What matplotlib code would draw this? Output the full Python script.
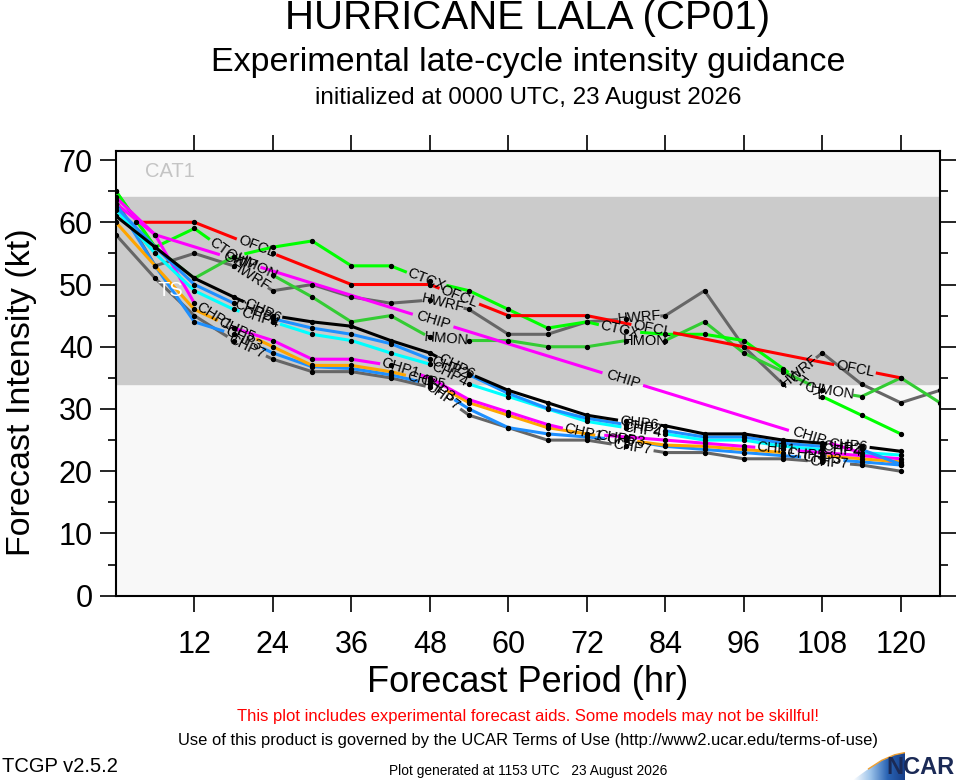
import numpy as np
import matplotlib
matplotlib.use('Agg')
import matplotlib.pyplot as plt
from matplotlib.patches import Polygon

plt.rcParams['font.family'] = ['Liberation Sans', 'DejaVu Sans']

# forecast hours
hrs = [0, 6, 12, 18, 24, 30, 36, 42, 48, 54, 60, 66, 72, 78, 84, 90, 96, 102, 108, 114, 120]
hrs_long = hrs + [126]
hrs_ofcl = [3, 12, 24, 36, 48, 60, 72, 96, 120]
hrs_chip = [0, 6, 120]

# intensity (kt)
ofcl = [60, 60, 55, 50, 50, 45, 45, 40, 35]
hwrf = [63.5, 53, 55, 53, 49, 50, 48, 47, 47.5, 46, 42, 42, 44, 44.5, 45, 49, 40, 34, 39, 34, 31, 33]
hmon = [65, 56, 51, 54.5, 51.5, 48, 44, 45, 41.5, 41, 41, 40, 40, 41, 41, 44, 39, 36, 33, 32, 35, 31]
ctcx = [65, 56, 59, 54.5, 56, 57, 53, 53, 50.5, 49, 46, 43, 44, 42.5, 42, 42, 41, 36.5, 32, 29, 26]
chip = [63, 58, 21]
chp6 = [61, 56, 51, 48, 45, 44, 43.3, 41, 39, 35.7, 33, 31, 29, 28, 27.3, 26, 26, 25, 24.5, 24, 23.2]
chp2 = [62.5, 56, 50, 47, 44.5, 43, 42, 40.5, 38, 35.5, 32.5, 30.1, 28.5, 27.5, 26.5, 25.5, 25.5, 24.5, 24, 23.5, 21.1]
chp4 = [62, 55, 49, 46, 44, 42, 41, 39, 37.2, 34, 32, 30, 28, 27, 26, 25, 25, 24, 23.5, 23, 22.6]
chp1 = [64, 58, 47, 43, 41, 38, 38, 37, 35, 31.5, 29.5, 27.5, 26, 25.5, 25, 24.5, 24, 23.5, 23, 22.5, 22]
chp5 = [60, 53, 46, 43, 40, 37, 37, 36, 34.5, 31, 29, 27, 26, 25, 24.2, 24, 23.5, 23, 22.5, 22, 21.5]
chp3 = [63, 53, 44, 42, 39, 36.8, 36.5, 35.5, 34, 30, 27, 26, 25.5, 25, 24, 23.5, 23, 22.5, 22, 21.5, 21]
chp7 = [58, 51, 45, 41, 38, 36, 36, 35, 33.5, 29, 27, 25, 25, 24, 23, 23, 22, 22, 21.5, 21, 20]

# where the inline labels sit (hours)
lab_ofcl = [21.5, 52.5, 82, 113]
lab_hwrf = [20.5, 50, 80, 104.5]
lab_ctcx = [17, 47.5, 77, 105.5]
lab_hmon = [21.5, 50.5, 81, 109.5]
lab_chip = [19, 48.5, 77.5, 106]
lab_chp6 = [22.5, 52, 80, 112]
lab_chp2 = [21, 51, 80.5, 111]
lab_chp4 = [22, 51, 80.5, 111]
lab_chp1 = [15, 43.5, 71.5, 101]
lab_chp5 = [18.5, 47.5, 76.5, 105.5]
lab_chp3 = [19.5, 49, 78, 108]
lab_chp7 = [20, 50, 79, 109]

fig = plt.figure(figsize=(9.57, 7.8), dpi=100)
ax = fig.add_axes([115.9/957, 1-595.7/780, (940-115.9)/957, (595.7-150.7)/780])
ax.set_xlim(0, 126)
ax.set_ylim(0, 71.5)
ax.set_facecolor('#f8f8f8')
ax.axhspan(34, 64, color='#cbcbcb', zorder=0)
ax.text(8.3, 68.1, 'CAT1', color='#c4c4c4', fontsize=14.5, ha='center', va='center')
ax.text(8.3, 49.1, 'TS', color='white', fontsize=14.5, ha='center', va='center', zorder=6)

LABFS = 10.5


def draw(x, y, color, name, labs):
    x = np.asarray(x, float)
    y = np.asarray(y, float)
    tr = ax.transData
    pts = tr.transform(np.column_stack([x, y]))
    pxh = (tr.transform((12, 0))[0] - tr.transform((0, 0))[0]) / 12.0
    # label width in px (rough, liberation sans)
    w = 0.66 * len(name) * LABFS * 100 / 72.0
    cuts = []
    for h in labs:
        v = np.interp(h, x, y)
        i = min(max(np.searchsorted(x, h) - 1, 0), len(x) - 2)
        d = pts[i + 1] - pts[i]
        ang = np.degrees(np.arctan2(d[1], d[0]))
        dh = (w / 2 + 2) * np.cos(np.radians(ang)) / pxh
        cuts.append((h - dh, h + dh))
        ax.text(h, v, name, rotation=ang, rotation_mode='anchor', ha='center',
                va='center', fontsize=LABFS, color='black', zorder=5)
    # line with gaps under the labels
    xs, ys = [], []
    start = x[0]
    for a, b in cuts + [(x[-1], None)]:
        seg = [start] + [h for h in x if start < h < a] + [a]
        xs += seg + [np.nan]
        ys += [np.interp(s, x, y) for s in seg] + [np.nan]
        start = b
    ax.plot(xs, ys, color=color, lw=2.2, solid_capstyle='butt', zorder=3)
    ax.plot(x, y, 'o', color='black', ms=2.8, zorder=4)


draw(hrs_long, hwrf, '#666666', 'HWRF', lab_hwrf)
draw(hrs_long, hmon, '#33cc33', 'HMON', lab_hmon)
draw(hrs, ctcx, '#00ff00', 'CTCX', lab_ctcx)
draw(hrs_ofcl, ofcl, '#ff0000', 'OFCL', lab_ofcl)
draw(hrs_chip, chip, '#ff00ff', 'CHIP', lab_chip)
draw(hrs, chp7, '#666666', 'CHP7', lab_chp7)
draw(hrs, chp3, '#1e90ff', 'CHP3', lab_chp3)
draw(hrs, chp5, '#ffa500', 'CHP5', lab_chp5)
draw(hrs, chp1, '#ff00ff', 'CHP1', lab_chp1)
draw(hrs, chp4, '#00ffff', 'CHP4', lab_chp4)
draw(hrs, chp2, '#1e90ff', 'CHP2', lab_chp2)
draw(hrs, chp6, '#000000', 'CHP6', lab_chp6)

ax.set_xticks(range(12, 121, 12))
ax.set_yticks(range(0, 71, 10))
ax.set_yticks(range(5, 71, 10), minor=True)
ax.tick_params(axis='both', which='major', direction='out', length=11.5, width=1.2,
               labelsize=22, top=True, right=True)
ax.tick_params(axis='x', which='major', pad=13)
ax.tick_params(axis='y', which='major', pad=5)
ax.tick_params(axis='y', which='minor', direction='out', length=6, width=1.2, right=True)
for s in ax.spines.values():
    s.set_linewidth(1.5)
ax.set_xlabel('Forecast Period (hr)', fontsize=26)
ax.set_ylabel('Forecast Intensity (kt)', fontsize=24.5)
ax.xaxis.set_label_coords(0.5, (595.7 - 682) / 445)
ax.xaxis.label.set_va('center')
ax.yaxis.set_label_coords((22 - 115.9) / 824, (595.7 - 392) / 445)
ax.yaxis.label.set_va('center')

fig.text(0.5517, 1-18/780, 'HURRICANE LALA (CP01)', fontsize=29, ha='center', va='center')
fig.text(0.5517, 1-62/780, 'Experimental late-cycle intensity guidance', fontsize=24.5, ha='center', va='center')
fig.text(0.5517, 1-98/780, 'initialized at 0000 UTC, 23 August 2026', fontsize=17.5, ha='center', va='center')
fig.text(0.5517, 1-717/780, 'This plot includes experimental forecast aids. Some models may not be skillful!',
         fontsize=12, color='red', ha='center', va='center')
fig.text(0.5517, 1-741/780, 'Use of this product is governed by the UCAR Terms of Use (http://www2.ucar.edu/terms-of-use)',
         fontsize=11.9, ha='center', va='center')
fig.text(0.002, 1-767/780, 'TCGP v2.5.2', fontsize=14.5, ha='left', va='center')
fig.text(0.5517, 1-771/780, 'Plot generated at 1153 UTC   23 August 2026', fontsize=9.9, ha='center', va='center')

# NCAR logo
lax = fig.add_axes([853/957, 0, 52/957, 28/780])
lax.set_xlim(0, 1)
lax.set_ylim(0, 1)
lax.axis('off')
grad = np.linspace(0, 1, 100)[None, :]
img = lax.imshow(grad, extent=(0, 1, 0, 1), cmap=matplotlib.colors.LinearSegmentedColormap.from_list(
    'sw', ['#ffffff', '#9cc3ea', '#2a64b4', '#173f8a']), aspect='auto')
wedge = Polygon([(0.0, 0.0), (1.0, 0.0), (1.0, 0.98), (0.8, 0.9), (0.55, 0.7), (0.3, 0.4)],
                closed=True, transform=lax.transData, facecolor='none', edgecolor='none')
lax.add_patch(wedge)
img.set_clip_path(wedge)
lax.plot([0.3, 0.55, 0.8, 1.0], [0.4, 0.7, 0.9, 0.98], color='#f0a030', lw=1)
fig.text(955/957, 1-768/780, 'NCAR', fontsize=17, fontweight='bold', color='#1b2a56', ha='right', va='center')

fig.savefig('out.png', dpi=100)
